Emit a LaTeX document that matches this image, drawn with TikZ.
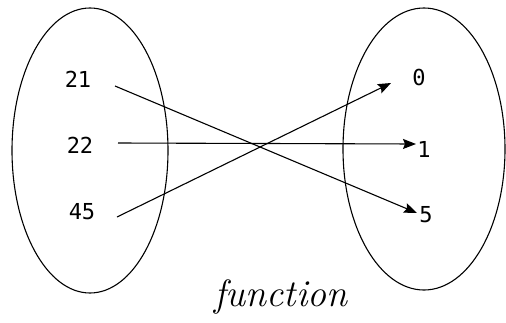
\documentclass[tikz,border=0pt]{standalone}
\usepackage{fontspec}
\newfontfamily\digitfont{DejaVu Sans Mono}
\usepackage{tikz}
\usetikzlibrary{arrows.meta, shapes.geometric}

\begin{document}
\begin{tikzpicture}[
    x=1pt, y=-1pt,
    set/.style={draw, ellipse, line width=1.1pt, inner sep=0pt},
    elem/.style={font=\digitfont\fontsize{22}{24}\selectfont, inner sep=0pt},
    maps/.style={->, line width=1.1pt, >={Stealth[length=13pt, width=10pt, inset=2pt]}}
]
\useasboundingbox (0,0) rectangle (506,322);

\node[set, minimum width=156pt, minimum height=285pt] (domain) at (90,150.5) {};
\node[set, minimum width=162pt, minimum height=282pt] (codomain) at (424,149) {};

\node[elem] (x21) at (78,79) {21};
\node[elem] (x22) at (80,145) {22};
\node[elem] (x45) at (82,212) {45};
\node[elem] (y0) at (419,77) {0};
\node[elem] (y1) at (424,149) {1};
\node[elem] (y5) at (426,215) {5};

\coordinate (s21) at (115,86);
\coordinate (s22) at (118,143);
\coordinate (s45) at (117,217);
\coordinate (t0) at (391,83);
\coordinate (t1) at (416,144);
\coordinate (t5) at (417,213);

\draw[maps] (s21) -- (t5);
\draw[maps] (s22) -- (t1);
\draw[maps] (s45) -- (t0);

\node[font=\itshape\fontsize{38}{40}\selectfont, anchor=base] (fname) at (281,306) {function};

\end{tikzpicture}
\end{document}
